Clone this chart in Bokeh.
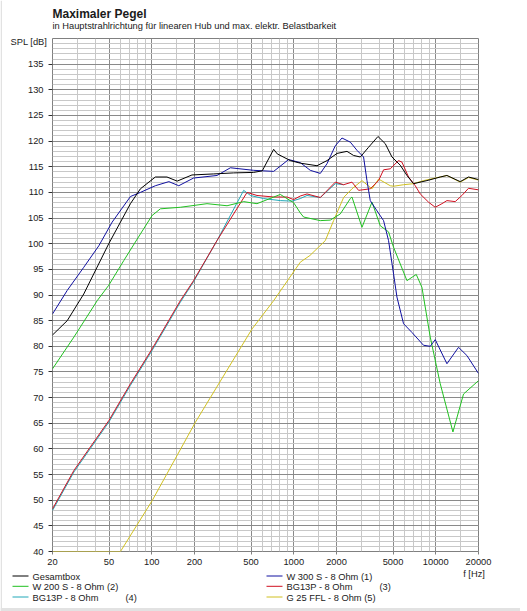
from bokeh.plotting import figure
from bokeh.models import FixedTicker, PrintfTickFormatter, Range1d, ColumnDataSource
from bokeh.embed import file_html
from bokeh.resources import INLINE
from bokeh.core.properties import value

# ---------------- data ----------------
ges_f = [20, 25.4, 33.2, 49.8, 70.8, 83.2, 106, 128, 151, 192, 273, 377, 522, 600, 722, 766, 946, 1112,
         1458, 1715, 2016, 2371, 2638, 2942, 3364, 3918, 4410, 4916, 5624, 6270, 6976, 8670, 10754,
         11986, 14868, 17008, 20000]
ges_db = [82.2, 85.0, 90.2, 100.0, 107.8, 110.7, 113.0, 113.0, 112.2, 113.4, 113.6, 113.8, 113.9, 114.2,
          118.4, 117.5, 116.2, 115.7, 115.2, 116.2, 117.6, 118.0, 117.2, 116.9, 118.8, 120.9, 119.5, 116.9,
          115.3, 113.3, 111.7, 112.3, 113.0, 113.3, 112.1, 113.0, 112.5]

w300_f = [20, 25.4, 33.2, 42.4, 52.6, 70.8, 83.2, 106, 132, 155, 197, 288, 358, 522, 722, 920, 1112,
          1308, 1538, 1715, 1962, 2186, 2502, 2788, 3102, 3278, 3458, 3856, 4290, 4652, 5046, 5330,
          5932, 6798, 8204, 9144, 9916, 11986, 14466, 16574, 20000]
w300_db = [86.3, 90.9, 95.4, 99.6, 104.2, 109.2, 110.0, 111.3, 112.1, 111.3, 112.8, 113.3, 114.8, 114.3,
           114.1, 116.4, 115.8, 114.3, 113.7, 115.6, 119.1, 120.6, 119.8, 118.2, 116.9, 112.3, 108.4,
           106.4, 104.5, 100.6, 94.1, 89.6, 84.4, 82.7, 80.2, 80.0, 81.3, 76.6, 79.8, 78.2, 74.7]

w200_f = [20, 28.3, 41.3, 49.8, 63.5, 83.2, 100.6, 115, 159, 245, 339, 444, 551, 804, 998, 1112, 1173,
          1538, 1808, 2127, 2502, 2570, 3024, 3556, 4066, 4652, 5046, 6270, 7290, 7992, 9144, 10754,
          13212, 15686, 20000]
w200_db = [75.6, 81.8, 88.9, 91.9, 96.7, 101.9, 105.5, 106.8, 107.1, 107.8, 107.4, 108.2, 107.8, 109.6,
           108.0, 106.0, 105.2, 104.5, 104.6, 105.8, 108.8, 109.1, 103.2, 108.1, 103.5, 102.3, 99.3,
           92.8, 94.0, 91.5, 81.8, 72.7, 63.3, 70.7, 73.3]

bg3_f = [20, 28.3, 49.8, 70.8, 100.6, 159, 197, 288, 469, 551, 722, 897, 998, 1112, 1240, 1538, 1962,
         2244, 2570, 2862, 3458, 3956, 4290, 4782, 5470, 5780, 6434, 7170, 7776, 8894, 9916, 11052,
         11986, 13710, 15282, 17008, 20000]
bg3_db = [48.3, 55.8, 65.5, 72.7, 79.5, 88.9, 92.8, 100.6, 110.0, 109.4, 109.1, 109.1, 108.6, 109.3,
          109.7, 109.0, 112.0, 111.5, 112.0, 110.4, 110.7, 112.3, 114.4, 114.6, 116.2, 115.9, 113.0,
          111.3, 109.7, 108.1, 107.1, 107.8, 108.4, 108.2, 109.4, 110.8, 110.5]

bg4_f = [20, 28.3, 49.8, 70.8, 100.6, 159, 197, 288, 444, 496, 612, 804, 972, 1112, 1240, 1538, 1962, 2244]
bg4_db = [48.0, 55.5, 65.2, 72.4, 79.2, 88.6, 92.6, 100.6, 110.4, 109.4, 108.8, 108.4, 108.3, 108.8,
          109.4, 109.0, 111.7, 111.5]

g25_f = [20, 60.2, 100.6, 203, 509, 722, 1112, 1300, 1668, 1908, 2244, 2570, 3024, 3556, 3956, 4782,
         5046, 5932, 6976, 8204, 9916, 11986, 14868, 17008, 20000]
g25_db = [40.0, 40.0, 49.9, 65.2, 83.4, 88.9, 96.4, 97.7, 100.6, 104.5, 109.0, 110.7, 112.3, 110.7,
          112.6, 111.3, 111.2, 111.5, 111.7, 112.3, 112.8, 113.3, 112.0, 112.9, 112.4]

series_names = ["Gesamtbox", "W 300 S - 8 Ohm (1)", "W 200 S - 8 Ohm (2)",
                "BG13P - 8 Ohm", "BG13P - 8 Ohm", "G 25 FFL - 8 Ohm (5)"]
series_suffix = ["", "", "", "(3)", "(4)", ""]
series_colors = ["#000000", "#1010a0", "#20c020", "#d01020", "#20a8b8", "#d0c020"]

x_ticks = [20, 50, 100, 200, 500, 1000, 2000, 5000, 10000, 20000]
x_minor = [30, 40, 60, 70, 80, 90, 150, 300, 400, 600, 700, 800, 900, 1500,
           3000, 4000, 6000, 7000, 8000, 9000, 15000]
y_ticks = list(range(40, 136, 5))
y_minor = list(range(40, 141))

title_text = "Maximaler Pegel"
subtitle_text = "in Hauptstrahlrichtung für linearen Hub und max. elektr. Belastbarkeit"
y_label_text = "SPL [dB]"
x_label_text = "f [Hz]"

FONT = "Liberation Sans"
FS = "9.3px"
TXT = "#1a1a1a"
SHIFT = 3.5  # the svg text baseline sits ~0.38 em lower than requested

# ---------------- text / legend layer (pixel coordinates, separate root) ----------------
OW, OH = 520, 611
ov = figure(width=OW, height=OH, x_range=Range1d(0, OW), y_range=Range1d(OH, 0),
            min_border=0, output_backend="svg", toolbar_location=None,
            x_axis_location=None, y_axis_location=None,
            background_fill_color=None, border_fill_color=None)
ov.outline_line_color = None
ov.grid.visible = False

# light window border as in the reference screenshot
ov.quad(left=[0, 0], right=[OW, 1.5], top=[607.5, 0], bottom=[OH, OH],
        fill_color="#e2e2e2", line_color=None)

def put(xs, ys, texts, size=FS, style="normal", align="left", shift=SHIFT):
    ov.text(x=xs, y=[v - shift for v in ys], text=texts, text_font=value(FONT),
            text_font_size=value(size), text_font_style=style, text_color=TXT,
            text_baseline="alphabetic", text_align=align)

put([52], [17.3], [title_text], size="12px", style="bold", shift=4.3)
put([52], [29.3], [subtitle_text])
put([46.7], [45.3], [y_label_text], align="right")
put([462.7], [576.5], [x_label_text])

col_x = [12, 266]
suffix_x = [125, 379]
row_base = [580, 590.3, 601]
lx0, lx1, ly, tx, ty, cols = [], [], [], [], [], []
sfx, sfy, sft = [], [], []
for i, name in enumerate(series_names):
    c, r = i % 2, i // 2
    lx0.append(col_x[c])
    lx1.append(col_x[c] + 16)
    ly.append(row_base[r] - 4.5)
    tx.append(col_x[c] + 20)
    ty.append(row_base[r])
    cols.append(series_colors[i])
    if series_suffix[i]:
        sfx.append(suffix_x[c])
        sfy.append(row_base[r])
        sft.append(series_suffix[i])
ov.segment(x0=lx0, y0=ly, x1=lx1, y1=ly, line_color=cols, line_width=1)
put(tx, ty, series_names)
put(sfx, sfy, sft)

# ---------------- main chart (pulled up over the text layer, transparent border) ----------------
p = figure(x_axis_type="log", x_range=Range1d(20, 20000), y_range=Range1d(40, 140),
           frame_width=426, frame_height=513,
           min_border_left=52, min_border_right=30, min_border_top=38, min_border_bottom=18,
           output_backend="svg", toolbar_location=None,
           background_fill_color="white", border_fill_color=None,
           margin=(-OH, 0, 0, 0))
p.outline_line_color = "#808080"

xt = FixedTicker(ticks=x_ticks, minor_ticks=x_minor)
p.xaxis.ticker = xt
p.yaxis.ticker = FixedTicker(ticks=y_ticks, minor_ticks=y_minor)
p.xgrid.ticker = xt
p.ygrid.ticker = FixedTicker(ticks=list(range(40, 141, 5)), minor_ticks=y_minor)

for g in (p.xgrid, p.ygrid):
    g.grid_line_color = "#8a8a8a"
    g.minor_grid_line_color = "#c8c8c8"
    g.grid_line_width = 1
    g.minor_grid_line_width = 1

p.xaxis.formatter = PrintfTickFormatter(format="%d")
p.yaxis.formatter = PrintfTickFormatter(format="%d")
for ax in (p.xaxis, p.yaxis):
    ax.axis_line_color = None
    ax.minor_tick_line_color = None
    ax.major_tick_in = 0
    ax.major_label_text_font = FONT
    ax.major_label_text_font_size = FS
    ax.major_label_text_color = TXT
p.yaxis.major_tick_out = 4
p.yaxis.major_tick_line_color = "#303030"
p.yaxis.major_label_standoff = 5
p.xaxis.major_tick_out = 3
p.xaxis.major_tick_line_color = "#808080"
p.xaxis.major_label_standoff = 3

series = [(g25_f, g25_db, 5), (bg4_f, bg4_db, 4), (bg3_f, bg3_db, 3),
          (w200_f, w200_db, 2), (w300_f, w300_db, 1), (ges_f, ges_db, 0)]
for fx, dbs, idx in series:
    src = ColumnDataSource(dict(f=fx, db=dbs))
    p.line("f", "db", source=src, line_color=series_colors[idx], line_width=1)

open("out.html", "w").write(file_html([ov, p], INLINE))
